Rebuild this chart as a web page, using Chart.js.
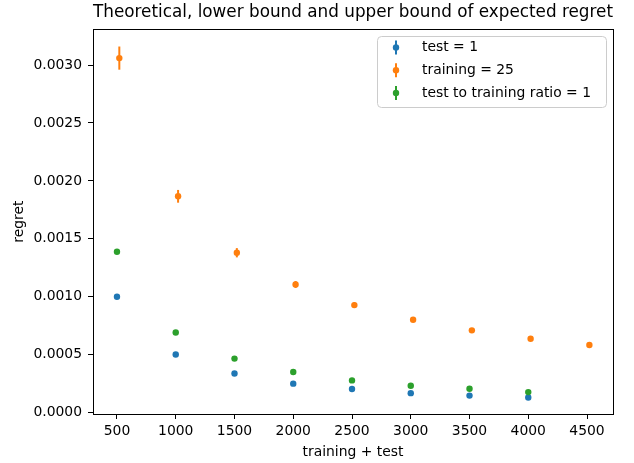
<!DOCTYPE html>
<html>
<head>
<meta charset="utf-8">
<script src="https://cdn.jsdelivr.net/npm/chart.js@4.4.0/dist/chart.umd.min.js"></script>
<style>
  html, body { margin: 0; padding: 0; background: #fff; }
  canvas { display: block; }
</style>
</head>
<body>
<canvas id="graficoRegret" width="634" height="463"></canvas>
<script>
var cores = ["#1f77b4", "#ff7f0e", "#2ca02c"];
var rotulos = ["test = 1", "training = 25", "test to training ratio = 1"];

// test = 1
var xTeste = [500, 1000, 1500, 2000, 2500, 3000, 3500, 4000];
var yTeste = [0.001, 0.000502, 0.000338, 0.00025, 0.000204, 0.000168, 0.000147, 0.00013];
var erroTeste = [0, 0, 0, 0, 0, 0, 0, 0];

// training = 25
var xTreino = [520, 1020, 1520, 2020, 2520, 3020, 3520, 4020, 4520];
var yTreino = [0.00306, 0.001867, 0.00138, 0.001106, 0.000928, 0.000802, 0.00071, 0.000638, 0.000583];
var erroTreino = [0.0001, 0.000055, 0.00004, 0.00003, 0.000025, 0.00002, 0.000015, 0.000012, 0.00001];

// test to training ratio = 1
var xRazao = [500, 1000, 1500, 2000, 2500, 3000, 3500, 4000];
var yRazao = [0.001388, 0.000692, 0.000466, 0.00035, 0.000278, 0.000232, 0.000206, 0.000177];
var erroRazao = [0, 0, 0, 0, 0, 0, 0, 0];

var ticksX = [500, 1000, 1500, 2000, 2500, 3000, 3500, 4000, 4500];
var ticksY = [0, 0.0005, 0.001, 0.0015, 0.002, 0.0025, 0.003];

var fonte = "'DejaVu Sans', sans-serif";

function pontos(xs, ys) {
  var lista = [];
  for (var i = 0; i < xs.length; i++) {
    lista.push({ x: xs[i], y: ys[i] });
  }
  return lista;
}

function serie(indice, xs, ys, erros, ordem) {
  return {
    label: rotulos[indice],
    data: pontos(xs, ys),
    erros: erros,
    backgroundColor: cores[indice],
    borderColor: cores[indice],
    pointRadius: 3.2,
    pointBorderWidth: 0,
    pointHoverRadius: 3.2,
    order: ordem,
  };
}

// vertical error bars, drawn under the markers
var barrasErro = {
  id: "barrasErro",
  beforeDatasetDraw: function (chart, args) {
    var ds = chart.data.datasets[args.index];
    var escY = chart.scales.y;
    var escX = chart.scales.x;
    var ctx = chart.ctx;
    ctx.save();
    ctx.strokeStyle = ds.borderColor;
    ctx.lineWidth = 2;
    for (var i = 0; i < ds.data.length; i++) {
      var e = ds.erros[i];
      if (!e) continue;
      var px = escX.getPixelForValue(ds.data[i].x);
      ctx.beginPath();
      ctx.moveTo(px, escY.getPixelForValue(ds.data[i].y - e));
      ctx.lineTo(px, escY.getPixelForValue(ds.data[i].y + e));
      ctx.stroke();
    }
    ctx.restore();
  },
};

// full box around the axes
var moldura = {
  id: "moldura",
  afterDraw: function (chart) {
    var a = chart.chartArea;
    var ctx = chart.ctx;
    ctx.save();
    ctx.strokeStyle = "#000";
    ctx.lineWidth = 1;
    ctx.strokeRect(Math.round(a.left) + 0.5, Math.round(a.top) + 0.5,
      Math.round(a.right - a.left), Math.round(a.bottom - a.top));
    ctx.restore();
  },
};

// legend inside the axes, upper right
var legenda = {
  id: "legenda",
  afterDraw: function (chart) {
    var ctx = chart.ctx;
    var bx = 377, by = 36, bw = 229, bh = 71;
    ctx.save();
    ctx.fillStyle = "rgba(255,255,255,0.8)";
    ctx.strokeStyle = "#cccccc";
    ctx.lineWidth = 1;
    ctx.beginPath();
    ctx.roundRect(bx + 0.5, by + 0.5, bw, bh, 4);
    ctx.fill();
    ctx.stroke();
    ctx.font = "13.9px " + fonte;
    ctx.textBaseline = "middle";
    ctx.textAlign = "left";
    var datasets = chart.data.datasets;
    for (var i = 0; i < datasets.length; i++) {
      var cy = 47.5 + i * 22.7;
      var cx = 396;
      ctx.strokeStyle = datasets[i].borderColor;
      ctx.lineWidth = 2;
      ctx.beginPath();
      ctx.moveTo(cx, cy - 7);
      ctx.lineTo(cx, cy + 7);
      ctx.stroke();
      ctx.fillStyle = datasets[i].backgroundColor;
      ctx.beginPath();
      ctx.arc(cx, cy, 3.2, 0, Math.PI * 2);
      ctx.fill();
      ctx.fillStyle = "#000";
      ctx.fillText(datasets[i].label, 422, cy);
    }
    ctx.restore();
  },
};

function plotarGrafico() {
  const data = {
    datasets: [
      serie(0, xTeste, yTeste, erroTeste, 3),
      serie(1, xTreino, yTreino, erroTreino, 2),
      serie(2, xRazao, yRazao, erroRazao, 1),
    ],
  };

  const config = {
    type: "scatter",
    data: data,
    plugins: [barrasErro, moldura, legenda],
    options: {
      responsive: false,
      animation: false,
      devicePixelRatio: 1,
      layout: { padding: { left: 0, right: 21, top: 0, bottom: 0 } },
      plugins: {
        legend: { display: false },
        tooltip: { enabled: false },
        title: {
          display: true,
          fullSize: false,
          text: "Theoretical, lower bound and upper bound of expected regret",
          color: "#000",
          font: { family: fonte, size: 17.2, weight: "normal" },
          padding: { top: 2.5, bottom: 6 },
        },
      },
      scales: {
        x: {
          type: "linear",
          min: 296,
          max: 4721,
          afterBuildTicks: function (escala) {
            escala.ticks = ticksX.map(function (v) { return { value: v }; });
          },
          afterFit: function (escala) { escala.height = 49; },
          grid: { drawOnChartArea: false, drawTicks: true, tickLength: 5, color: "#000" },
          border: { display: false },
          ticks: {
            color: "#000",
            padding: 4,
            maxRotation: 0,
            font: { family: fonte, size: 13.9 },
            callback: function (v) { return String(v); },
          },
          title: {
            display: true,
            text: "training + test",
            color: "#000",
            font: { family: fonte, size: 13.9 },
            padding: { top: 0, bottom: 2.6 },
          },
        },
        y: {
          type: "linear",
          min: -0.000012,
          max: 0.00331,
          afterBuildTicks: function (escala) {
            escala.ticks = ticksY.map(function (v) { return { value: v }; });
          },
          afterFit: function (escala) { escala.width = 93; },
          grid: { drawOnChartArea: false, drawTicks: true, tickLength: 5, color: "#000" },
          border: { display: false },
          ticks: {
            color: "#000",
            padding: 6,
            font: { family: fonte, size: 13.9 },
            callback: function (v) { return Number(v).toFixed(4); },
          },
          title: {
            display: true,
            text: "regret",
            color: "#000",
            font: { family: fonte, size: 13.9 },
            padding: { top: 10.7, bottom: 0 },
          },
        },
      },
    },
  };
  return new Chart(document.getElementById("graficoRegret"), config);
}

plotarGrafico();
</script>
</body>
</html>
